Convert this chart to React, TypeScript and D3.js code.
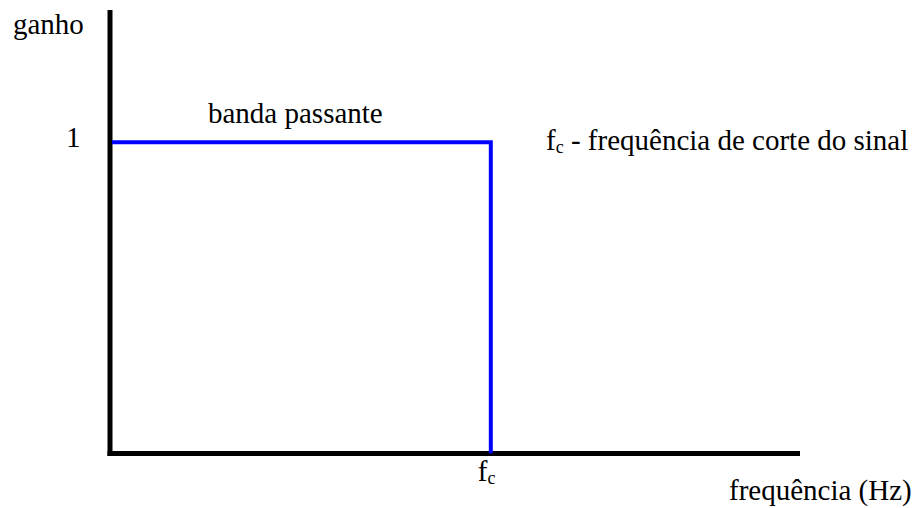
import React from "react";
import * as d3 from "d3";

// Ideal low-pass filter: unit gain up to the cut-off frequency, zero above it
const freqDomain = [0, 100];
const gainDomain = [0, 1.425];
const cutoff = 54.9;
const passGain = [1];
const responseFreq = [0, cutoff, cutoff];
const responseGain = [1, 1, 0];

const W = 922;
const H = 508;
const SERIF = "Liberation Serif";
const SIZE = 29;

export default function App() {
  const x = d3.scaleLinear().domain(freqDomain).range([110, 800]);
  const y = d3.scaleLinear().domain(gainDomain).range([453.5, 10]);

  const response = d3
    .line<number>()
    .x((_, i) => x(responseFreq[i]))
    .y((g) => y(g))(responseGain);

  const label = (props: { x: number; y: number; children: React.ReactNode }) => (
    <text x={props.x} y={props.y} fontFamily={SERIF} fontSize={SIZE} fill="#000" style={{ fontFamily: SERIF, fontSize: SIZE }}>
      {props.children}
    </text>
  );

  const sub = { fontFamily: SERIF, fontSize: 18 };

  return (
    <svg width={W} height={H} style={{ display: "block", margin: "-8px 0 0 -8px", background: "#fff" }}>
      <style>{`text, tspan { font-family: "Liberation Serif", serif; }`}</style>

      {/* axes */}
      <line x1={x(0)} x2={x(0)} y1={y(gainDomain[1])} y2={y(0) + 2.5} stroke="#000" strokeWidth={5} />
      <line x1={x(0) - 2.5} x2={x(freqDomain[1])} y1={y(0)} y2={y(0)} stroke="#000" strokeWidth={5} />

      {/* frequency response */}
      <path d={response ?? ""} fill="none" stroke="#0000ff" strokeWidth={4} strokeLinejoin="miter" transform="translate(2,0)" />

      {/* labels */}
      {label({ x: 13, y: 34, children: "ganho" })}
      {passGain.map((g) => (
        <React.Fragment key={g}>{label({ x: 66, y: y(g) + 5, children: String(g) })}</React.Fragment>
      ))}
      {label({ x: 208, y: 123, children: "banda passante" })}
      {label({
        x: 546,
        y: 150,
        children: (
          <>
            f<tspan style={sub} dy={3}>c</tspan>
            <tspan dy={-3}> - frequência de corte do sinal</tspan>
          </>
        ),
      })}
      {label({
        x: x(cutoff) - 11,
        y: 481,
        children: (
          <>
            f<tspan style={sub} dy={3}>c</tspan>
          </>
        ),
      })}
      {label({ x: 729, y: 500, children: "frequência (Hz)" })}
    </svg>
  );
}
